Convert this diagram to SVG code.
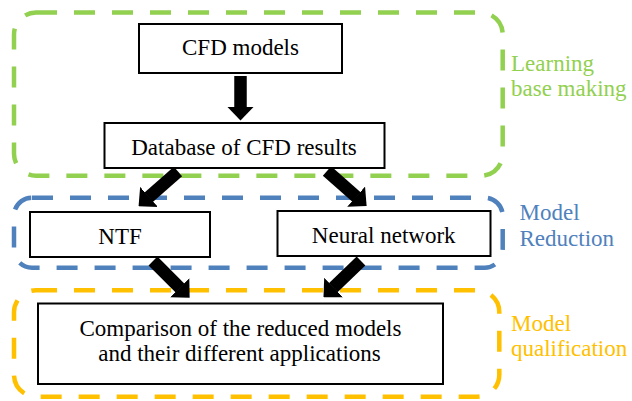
<svg xmlns="http://www.w3.org/2000/svg" width="632" height="401" viewBox="0 0 632 401">
<style>
  .grp { fill: none; stroke-width: 4.5; stroke-dasharray: 21 17; }
  .box { fill: #ffffff; stroke: #000000; stroke-width: 2; }
  .lbl { font-family: "Liberation Serif", "Times New Roman", serif; font-size: 23px; fill: #000000; text-anchor: middle; }
  .side { font-family: "Liberation Serif", "Times New Roman", serif; font-size: 23px; }
  .arr { stroke: #000000; stroke-width: 12.5; fill: none; marker-end: url(#head); }
</style>
<defs>
  <marker id="head" markerUnits="userSpaceOnUse" viewBox="0 0 14 27" markerWidth="14" markerHeight="27" refX="0.5" refY="13.5" orient="auto">
    <path d="M0,0 L14,13.5 L0,27 Z" fill="#000000"/>
  </marker>
</defs>
<rect width="632" height="401" fill="#ffffff"/>

<g id="group-learning">
  <rect class="grp" x="14" y="12.5" width="488.7" height="163.3" rx="22" stroke="#92D050"/>
  <text class="side" fill="#92D050" x="511" y="70.5">Learning</text>
  <text class="side" fill="#92D050" x="511" y="95.7">base making</text>
</g>
<g id="group-reduction">
  <rect class="grp" x="14" y="197.7" width="488.7" height="70" rx="18" stroke="#4F81BD"/>
  <text class="side" fill="#4F81BD" x="519.5" y="220">Model</text>
  <text class="side" fill="#4F81BD" x="519.5" y="246">Reduction</text>
</g>
<g id="group-qualification">
  <rect class="grp" x="14" y="290.3" width="485.3" height="106.4" rx="22" stroke="#FFC000"/>
  <text class="side" fill="#FFC000" x="511" y="331">Model</text>
  <text class="side" fill="#FFC000" x="511" y="356">qualification</text>
</g>

<g id="connectors">
  <line class="arr" x1="240.5" y1="76" x2="240.5" y2="107"/>
  <line class="arr" x1="178" y1="171.5" x2="148.7" y2="197.3"/>
  <line class="arr" x1="327" y1="171" x2="356.5" y2="197"/>
  <line class="arr" x1="153" y1="261" x2="180.1" y2="288.1"/>
  <line class="arr" x1="361" y1="261" x2="333.2" y2="287.8"/>
</g>

<g id="node-cfd">
  <rect class="box" x="139" y="24" width="203" height="49"/>
  <text class="lbl" x="240.5" y="54.5">CFD models</text>
</g>
<g id="node-database">
  <rect class="box" x="104.5" y="123" width="280" height="45"/>
  <text class="lbl" x="244" y="154.5">Database of CFD results</text>
</g>
<g id="node-ntf">
  <rect class="box" x="30" y="212" width="180" height="45"/>
  <text class="lbl" x="120" y="244">NTF</text>
</g>
<g id="node-nn">
  <rect class="box" x="277.5" y="211" width="213" height="45"/>
  <text class="lbl" x="383.7" y="243">Neural network</text>
</g>
<g id="node-comparison">
  <rect class="box" x="38" y="303.5" width="405" height="80.5"/>
  <text class="lbl" x="240.5" y="336">Comparison of the reduced models</text>
  <text class="lbl" x="239.5" y="361">and their different applications</text>
</g>
</svg>
